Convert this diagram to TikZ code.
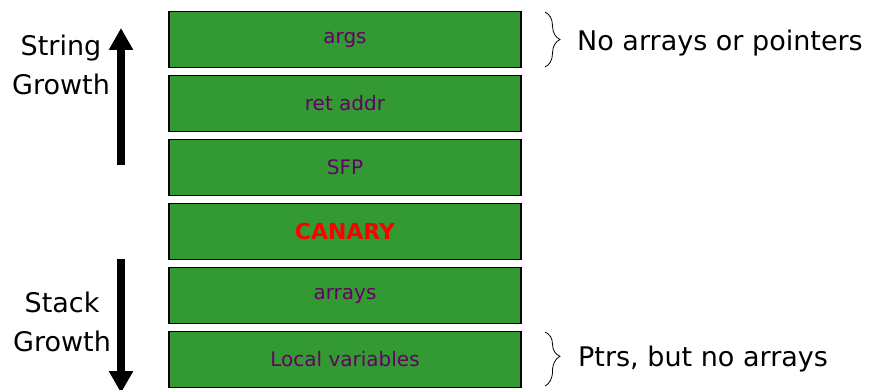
\documentclass[tikz,border=0pt]{standalone}
\usepackage{fontspec}
\setmainfont{DejaVu Sans}
\usetikzlibrary{arrows.meta,decorations.pathreplacing}
\definecolor{stackgreen}{HTML}{339933}
\definecolor{framepurple}{HTML}{660066}

\begin{document}
\begin{tikzpicture}[x=1pt,y=-1pt,
    frame/.style={draw=black,line width=1.2pt,fill=stackgreen,minimum width=352pt,minimum height=56pt,inner sep=0pt,text=framepurple,font=\fontsize{20}{24}\selectfont},
    side/.style={align=center,font=\fontsize{27}{38.5}\selectfont},
    note/.style={anchor=base west,inner sep=0pt,font=\fontsize{27}{32}\selectfont},
    growth/.style={line width=8.5pt,-{Triangle[width=23pt,length=22pt]}},
    bracket/.style={decorate,decoration={brace,amplitude=15pt},line width=0.8pt}]
    \useasboundingbox (0,0) rectangle (877,390);

    % stack frame, top to bottom
    \node [frame] (args) at (345,39.5) {args};
    \node [frame] (ret) at (345,103.5) {ret addr};
    \node [frame] (sfp) at (345,167.5) {SFP};
    \node [frame,text=red,font=\fontsize{22}{26}\selectfont\bfseries] (canary) at (345,231.5) {CANARY};
    \node [frame] (arrays) at (345,295.5) {arrays};
    \node [frame] (locals) at (345,359.5) {Local variables};

    % string growth
    \node [side] (string) at (61,65) {String\\Growth};
    \coordinate (up tail) at (121,165);
    \coordinate (up tip) at (121,28);
    \draw [growth] (up tail) -- (up tip);

    % stack growth
    \node [side] (stack) at (62,322) {Stack\\Growth};
    \coordinate (down tail) at (121,259);
    \coordinate (down tip) at (121,393);
    \draw [growth] (down tail) -- (down tip);

    % notes on the right
    \coordinate (b1) at (545,12);
    \coordinate (b2) at (545,67);
    \draw [bracket] (b1) -- (b2);
    \node [note] (noptr) at (577,51) {No arrays or pointers};

    \coordinate (b3) at (545,332);
    \coordinate (b4) at (545,386);
    \draw [bracket,decoration={aspect=0.45}] (b3) -- (b4);
    \node [note] (ptrs) at (578,366) {Ptrs, but no arrays};
\end{tikzpicture}
\end{document}
